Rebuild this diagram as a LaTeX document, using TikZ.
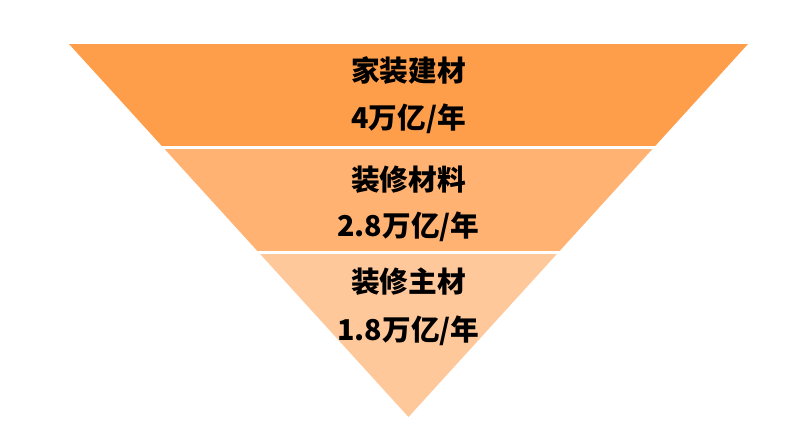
\documentclass[tikz,border=0pt]{standalone}
\usepackage{fontspec}
\newfontfamily\cjk{Noto Sans CJK SC}
\usepackage{tikz}
\definecolor{bandone}{RGB}{255,158,74}
\definecolor{bandtwo}{RGB}{255,178,114}
\definecolor{bandthree}{RGB}{255,200,154}

\begin{document}
\begin{tikzpicture}[x=1pt, y=-1pt,
			band/.style={fill=#1, draw=none},
			lbl/.style={inner sep=0pt, font=\cjk\bfseries\fontsize{28.7}{28.7}\selectfont, text=black}]
			%Bildbereich festlegen
			\useasboundingbox (0,0) rectangle (796,431);
			% Trichter: Dreieck als Clip, Streifen darin
			\begin{scope}
			\clip (69,44) -- (748,44) -- (408.5,417) -- cycle;
			\foreach \ya/\yb/\col in {44/145.5/bandone, 148.5/250.5/bandtwo, 253.5/417/bandthree}
				\fill[band=\col] (0,\ya) rectangle (796,\yb);
			\end{scope}
			% Beschriftung
			\node[lbl] (titleA) at (408.5,71) {家装建材};
			\node[lbl] (valueA) at (408.5,119) {4万亿/年};
			\node[lbl] (titleB) at (408.5,180) {装修材料};
			\node[lbl] (valueB) at (408.5,227) {2.8万亿/年};
			\node[lbl] (titleC) at (408.5,282) {装修主材};
			\node[lbl] (valueC) at (408.5,331) {1.8万亿/年};
		\end{tikzpicture}
\end{document}
